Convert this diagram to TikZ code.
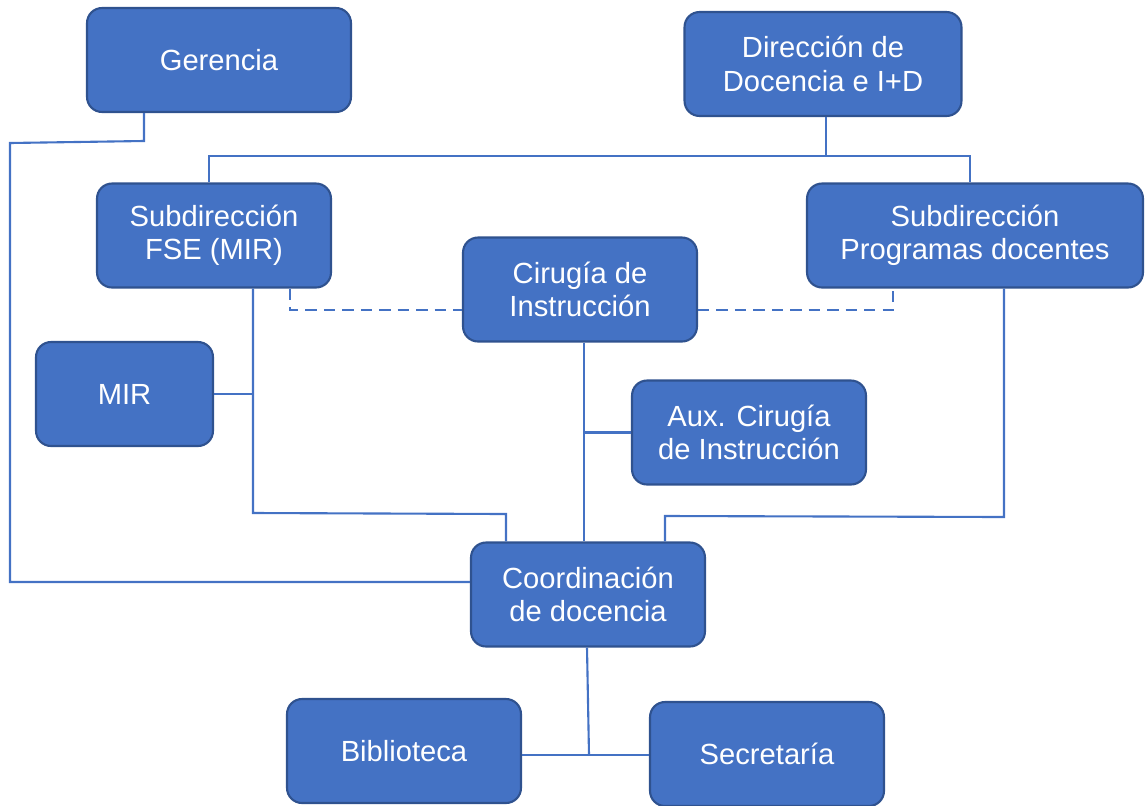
\documentclass[tikz,border=0pt]{standalone}
\usepackage{fontspec}
\setmainfont{Liberation Sans}
\definecolor{boxfill}{HTML}{4472C4}
\definecolor{boxdraw}{HTML}{2F528F}
\definecolor{linec}{HTML}{4472C4}
\begin{document}
\begin{tikzpicture}[x=0.02cm,y=-0.02cm,
  box/.style={draw=boxdraw,line width=1.2pt,fill=boxfill,rounded corners=0.3cm,
    text=white,align=center,font=\fontsize{16.6}{19}\selectfont,
    minimum width=4.68cm,minimum height=2.08cm,inner sep=2pt},
  conn/.style={draw=linec,line width=1.2pt},
  dconn/.style={conn,dash pattern=on 6.5pt off 4pt}]
\useasboundingbox (0,0) rectangle (1145,805);
\node[box,minimum width=5.28cm] (ger) at (219,60) {Gerencia};
\node[box,minimum width=5.54cm] (dir) at (823,64) {Dirección de\\Docencia e I+D};
\node[box] (fse) at (214,235.5) {Subdirección\\FSE (MIR)};
\node[box,minimum width=6.72cm] (prog) at (975,235.5) {Subdirección\\Programas docentes};
\node[box] (cir) at (580,289.5) {Cirugía de\\Instrucción};
\node[box,minimum width=3.54cm] (mir) at (124.5,394) {MIR};
\node[box] (aux) at (749,432.5) {Aux. Cirugía\\de Instrucción};
\node[box] (coord) at (588,594.5) {Coordinación\\de docencia};
\node[box] (bib) at (404,751) {Biblioteca};
\node[box] (sec) at (767,754) {Secretaría};
% Gerencia to Coordinación
\coordinate (g1) at (144,141);
\coordinate (g2) at (10,143);
\coordinate (g3) at (10,582);
\draw[conn] (ger.south -| g1) -- (g1) -- (g2) -- (g3) -- (g3 -| coord.west);
% Dirección branches
\coordinate (d1) at (826,156);
\coordinate (dl) at (209,156);
\coordinate (dr) at (970,156);
\draw[conn] (dir.south -| d1) -- (d1);
\draw[conn] (fse.north -| dl) -- (dl) -- (dr) -- (prog.north -| dr);
% FSE to Coordinación
\coordinate (f1) at (253,513);
\coordinate (f2) at (506,514);
\draw[conn] (fse.south -| f1) -- (f1) -- (f2) -- (coord.north -| f2);
\draw[conn] (mir.east) -- (mir.east -| f1);
% dashed links
\coordinate (s1) at (290,310);
\coordinate (s2) at (893,310);
\draw[dconn] (fse.south -| s1) -- (s1) -- (s1 -| cir.west);
\draw[dconn] (s1 -| cir.east) -- (s2) -- (prog.south -| s2);
% Cirugía to Coordinación
\coordinate (c1) at (584,432);
\draw[conn] (cir.south -| c1) -- (coord.north -| c1);
\draw[conn] (aux.west) -- (aux.west -| c1);
% Programas to Coordinación
\coordinate (p1) at (1004,517);
\coordinate (p2) at (665,516);
\draw[conn] (prog.south -| p1) -- (p1) -- (p2) -- (coord.north -| p2);
% Coordinación to Biblioteca / Secretaría
\coordinate (b1) at (589,755);
\draw[conn] (coord.south -| 587,0) -- (b1);
\draw[conn] (bib.east |- b1) -- (sec.west |- b1);
\end{tikzpicture}
\end{document}
